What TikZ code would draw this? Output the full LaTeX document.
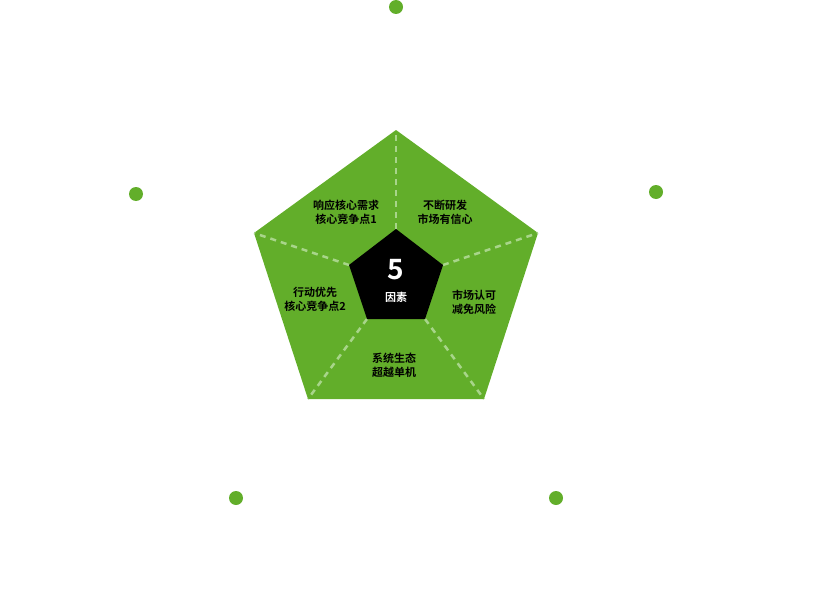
\documentclass[tikz,border=0pt]{standalone}
\usepackage{fontspec}
\newfontfamily\cjk{Noto Sans CJK SC Bold}
\definecolor{grn}{HTML}{62AE2A}
\definecolor{dsh}{HTML}{A8D58A}
\begin{document}
\begin{tikzpicture}[x=1pt,y=-1pt,
  lbl/.style={font=\cjk\fontsize{11}{14}\selectfont,align=center,text=black},
  dot/.style={circle,fill=grn,minimum size=14pt,inner sep=0pt},
  sep/.style={draw=dsh,line width=2.5pt,dash pattern=on 6pt off 5pt}]
\useasboundingbox (0,0) rectangle (822,594);
\coordinate (o1) at (396,130); \coordinate (o2) at (538,233); \coordinate (o3) at (484,399);
\coordinate (o4) at (308,399); \coordinate (o5) at (254,233);
\coordinate (i1) at (396,229); \coordinate (i2) at (443,265); \coordinate (i3) at (425,319);
\coordinate (i4) at (367,319); \coordinate (i5) at (349,265);
\fill[grn] (o1)--(o2)--(o3)--(o4)--(o5)--cycle;
\foreach \k in {1,...,5} \draw[sep] (i\k)--(o\k);
\fill[black] (i1)--(i2)--(i3)--(i4)--(i5)--cycle;
\node[font=\cjk\fontsize{28}{30}\selectfont,text=white] (n5) at (396,270) {5};
\node[font=\cjk\fontsize{11}{13}\selectfont,text=white] (yz) at (396,297) {因素};
\node[lbl] (a) at (346,212) {响应核心需求\\核心竞争点1};
\node[lbl] (b) at (445,212) {不断研发\\市场有信心};
\node[lbl] (c) at (474,302) {市场认可\\减免风险};
\node[lbl] (d) at (394,365) {系统生态\\超越单机};
\node[lbl] (e) at (315,299) {行动优先\\核心竞争点2};
\node[dot] (d1) at (396,7) {};
\node[dot] (d2) at (656,192) {};
\node[dot] (d3) at (556,498) {};
\node[dot] (d4) at (236,498) {};
\node[dot] (d5) at (136,194) {};
\end{tikzpicture}
\end{document}
